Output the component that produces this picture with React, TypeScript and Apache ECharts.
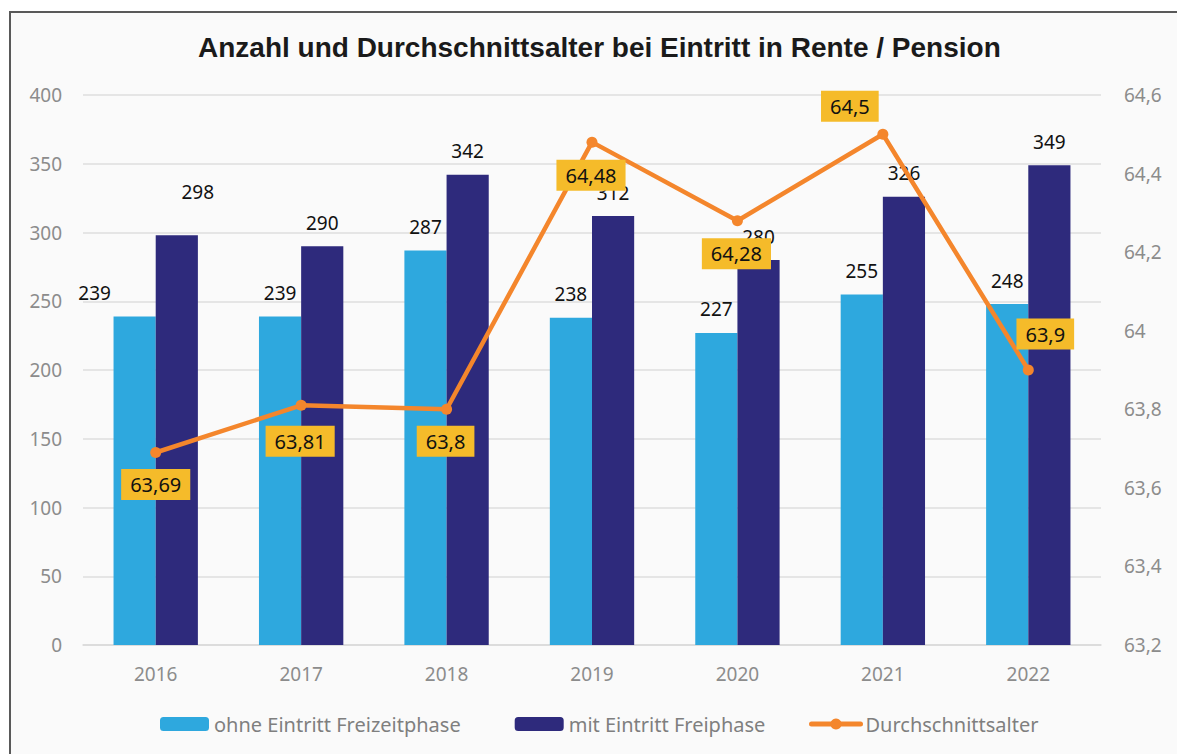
import React, { useEffect, useRef } from "react";
import * as echarts from "echarts";

const years = ["2016", "2017", "2018", "2019", "2020", "2021", "2022"];
const ohneFreizeit = [239, 239, 287, 238, 227, 255, 248];
const mitFreiphase = [298, 290, 342, 312, 280, 326, 349];
const durchschnittsalter = [63.69, 63.81, 63.8, 64.48, 64.28, 64.5, 63.9];
const ageLabelOffsets: [number, number][] = [
  [0, 32], [-1, 36], [-1, 32], [-1, 33], [-1, 33], [-33, -28], [17, -36],
];
const lightLabelOffsets: [number, number][] = [
  [-40, 0], [0, 0], [0, 0], [0, 0], [0, 0], [0, 0], [0, 0],
];
const darkLabelOffsets: [number, number][] = [
  [21, -20], [0, 0], [0, 0], [0, 0], [0, 0], [0, 0], [0, 0],
];

const FONT = "'Noto Sans', sans-serif";
const fmt = (v: number) => String(v).replace(".", ",");

export default function App() {
  const ref = useRef<HTMLDivElement>(null);
  useEffect(() => {
    if (!ref.current) return;
    const chart = echarts.init(ref.current, undefined, { renderer: "svg" });
    const legendBase = {
      bottom: 20,
      padding: 0,
      itemGap: 54,
      itemWidth: 49,
      itemHeight: 14,
      textStyle: { fontFamily: FONT, fontSize: 20, color: "#7f7f7f" },
    };
    chart.setOption({
      animation: false,
      backgroundColor: "#ffffff",
      graphic: [
        {
          type: "rect",
          z: -10,
          silent: true,
          shape: { x: 10, y: 12, width: 1220, height: 800 },
          style: { fill: "#fafafa", stroke: "#595959", lineWidth: 2 },
        },
      ],
      title: {
        text: "Anzahl und Durchschnittsalter bei Eintritt in Rente / Pension",
        left: 193,
        top: 28,
        textStyle: {
          fontFamily: "'Liberation Sans', Arial, sans-serif",
          fontWeight: "bold",
          fontSize: 28,
          color: "#1a1a1a",
        },
      },
      legend: [
        {
          ...legendBase,
          left: 160,
          data: [
            { name: "ohne Eintritt Freizeitphase" },
            { name: "mit Eintritt Freiphase" },
          ],
        },
        {
          ...legendBase,
          left: 809,
          data: [
            { name: "Durchschnittsalter", lineStyle: { width: 5, cap: "round" } },
          ],
        },
      ],
      grid: { left: 83, right: 76, top: 95, bottom: 109, outerBoundsMode: "none" },
      xAxis: {
        type: "category",
        data: years,
        axisLine: { lineStyle: { color: "#d9d9d9", width: 1.5 } },
        axisTick: { show: false },
        axisLabel: { fontFamily: FONT, fontSize: 19, color: "#8c8c8c", margin: 19 },
      },
      yAxis: [
        {
          type: "value",
          min: 0,
          max: 400,
          interval: 50,
          axisLine: { show: false },
          axisTick: { show: false },
          splitLine: { lineStyle: { color: "#dedede", width: 1.5 } },
          axisLabel: { fontFamily: FONT, fontSize: 19, color: "#8c8c8c", margin: 21 },
        },
        {
          type: "value",
          min: 63.2,
          max: 64.6,
          interval: 0.2,
          axisLine: { show: false },
          axisTick: { show: false },
          splitLine: { show: false },
          axisLabel: {
            fontFamily: FONT,
            fontSize: 19,
            color: "#8c8c8c",
            margin: 23,
            formatter: (v: number) => fmt(Math.round(v * 10) / 10),
          },
        },
      ],
      series: [
        {
          name: "ohne Eintritt Freizeitphase",
          type: "bar",
          barGap: "0%",
          barCategoryGap: "42%",
          itemStyle: { color: "#2ea8de" },
          data: ohneFreizeit.map((v, i) => ({
            value: v,
            label: { offset: lightLabelOffsets[i] },
          })),
          label: {
            show: true,
            position: "top",
            distance: 14,
            fontFamily: FONT,
            fontSize: 19,
            color: "#111",
          },
        },
        {
          name: "mit Eintritt Freiphase",
          type: "bar",
          itemStyle: { color: "#2e2a7c" },
          data: mitFreiphase.map((v, i) => ({
            value: v,
            label: { offset: darkLabelOffsets[i] },
          })),
          label: {
            show: true,
            position: "top",
            distance: 14,
            fontFamily: FONT,
            fontSize: 19,
            color: "#111",
          },
        },
        {
          name: "Durchschnittsalter",
          type: "line",
          yAxisIndex: 1,
          z: 5,
          symbol: "circle",
          symbolSize: 11,
          lineStyle: { color: "#f4862c", width: 4.5 },
          itemStyle: { color: "#f4862c" },
          data: durchschnittsalter.map((v, i) => ({
            value: v,
            label: { offset: ageLabelOffsets[i] },
          })),
          label: {
            show: true,
            position: "inside",
            formatter: (p: any) => fmt(p.value),
            fontFamily: FONT,
            fontSize: 20,
            color: "#111",
            backgroundColor: "#f5bb2a",
            padding: [6, 9, 5, 9],
          },
        },
      ],
    });
    return () => chart.dispose();
  }, []);
  return (
    <div
      ref={ref}
      style={{ position: "absolute", left: 0, top: 0, width: 1177, height: 754 }}
    />
  );
}
